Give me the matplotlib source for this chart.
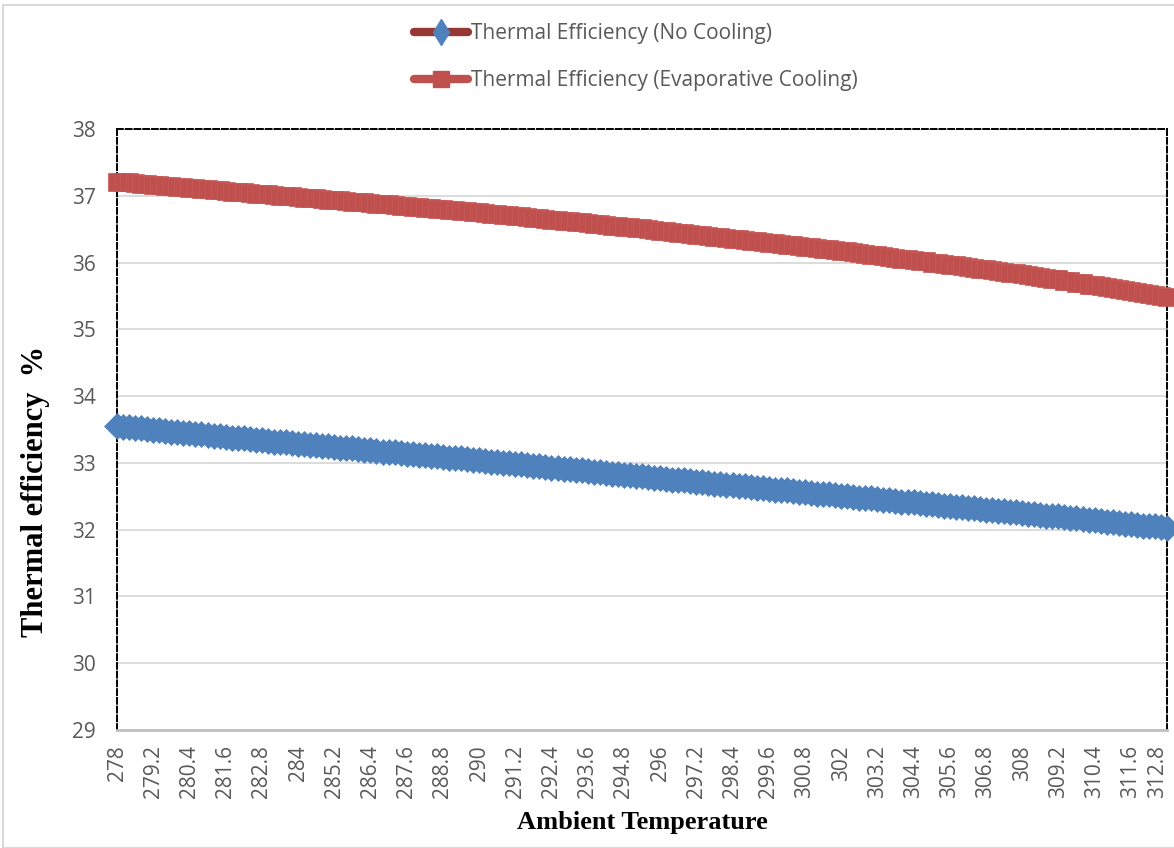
import numpy as np
import matplotlib
matplotlib.use("Agg")
import matplotlib.pyplot as plt
import matplotlib.transforms as mtransforms
from matplotlib.lines import Line2D
from matplotlib.patches import Rectangle

# ambient temperature categories (K), one every 0.2
temps = np.round(np.arange(278.0, 312.81, 0.2), 1)

eff_no_cooling = [
    33.55, 33.54, 33.53, 33.52, 33.52, 33.51, 33.50, 33.49, 33.48, 33.47,
    33.46, 33.45, 33.45, 33.44, 33.43, 33.42, 33.41, 33.40, 33.39, 33.38,
    33.38, 33.37, 33.36, 33.35, 33.34, 33.33, 33.32, 33.32, 33.31, 33.30,
    33.29, 33.28, 33.27, 33.27, 33.26, 33.25, 33.24, 33.23, 33.22, 33.22,
    33.21, 33.20, 33.19, 33.18, 33.17, 33.17, 33.16, 33.15, 33.14, 33.13,
    33.12, 33.12, 33.11, 33.10, 33.09, 33.08, 33.07, 33.07, 33.06, 33.05,
    33.04, 33.03, 33.02, 33.01, 33.00, 33.00, 32.99, 32.98, 32.97, 32.96,
    32.95, 32.94, 32.93, 32.92, 32.91, 32.91, 32.90, 32.89, 32.88, 32.87,
    32.86, 32.85, 32.84, 32.83, 32.82, 32.82, 32.81, 32.80, 32.79, 32.78,
    32.77, 32.76, 32.75, 32.74, 32.74, 32.73, 32.72, 32.71, 32.70, 32.69,
    32.68, 32.67, 32.67, 32.66, 32.65, 32.64, 32.63, 32.62, 32.61, 32.60,
    32.60, 32.59, 32.58, 32.57, 32.56, 32.55, 32.54, 32.54, 32.53, 32.52,
    32.51, 32.50, 32.49, 32.48, 32.48, 32.47, 32.46, 32.45, 32.44, 32.43,
    32.42, 32.41, 32.41, 32.40, 32.39, 32.38, 32.37, 32.36, 32.35, 32.34,
    32.34, 32.33, 32.32, 32.31, 32.30, 32.29, 32.28, 32.28, 32.27, 32.26,
    32.25, 32.24, 32.23, 32.22, 32.21, 32.20, 32.20, 32.19, 32.18, 32.17,
    32.16, 32.15, 32.14, 32.13, 32.12, 32.11, 32.10, 32.09, 32.08, 32.07,
    32.06, 32.06, 32.05, 32.04, 32.03,
]

eff_evap_cooling = [
    37.21, 37.20, 37.20, 37.19, 37.18, 37.17, 37.16, 37.16, 37.15, 37.14,
    37.13, 37.13, 37.12, 37.11, 37.10, 37.10, 37.09, 37.08, 37.07, 37.06,
    37.06, 37.05, 37.04, 37.03, 37.03, 37.02, 37.01, 37.00, 37.00, 36.99,
    36.98, 36.97, 36.97, 36.96, 36.95, 36.94, 36.93, 36.93, 36.92, 36.91,
    36.90, 36.90, 36.89, 36.88, 36.87, 36.87, 36.86, 36.85, 36.84, 36.83,
    36.83, 36.82, 36.81, 36.80, 36.80, 36.79, 36.78, 36.77, 36.77, 36.76,
    36.75, 36.74, 36.73, 36.72, 36.71, 36.71, 36.70, 36.69, 36.68, 36.67,
    36.66, 36.65, 36.64, 36.63, 36.62, 36.62, 36.61, 36.60, 36.59, 36.58,
    36.57, 36.56, 36.55, 36.54, 36.53, 36.53, 36.52, 36.51, 36.50, 36.49,
    36.48, 36.47, 36.46, 36.45, 36.44, 36.43, 36.42, 36.41, 36.40, 36.39,
    36.38, 36.37, 36.36, 36.35, 36.34, 36.33, 36.32, 36.31, 36.30, 36.29,
    36.28, 36.27, 36.26, 36.25, 36.24, 36.23, 36.22, 36.21, 36.20, 36.19,
    36.18, 36.17, 36.16, 36.14, 36.13, 36.12, 36.11, 36.10, 36.09, 36.07,
    36.06, 36.05, 36.04, 36.03, 36.02, 36.00, 35.99, 35.98, 35.97, 35.96,
    35.95, 35.93, 35.92, 35.91, 35.90, 35.89, 35.88, 35.86, 35.85, 35.84,
    35.83, 35.82, 35.80, 35.79, 35.77, 35.76, 35.75, 35.73, 35.72, 35.70,
    35.69, 35.67, 35.66, 35.65, 35.63, 35.62, 35.60, 35.59, 35.57, 35.56,
    35.55, 35.53, 35.52, 35.50, 35.49,
]

y_ticks = list(range(29, 39))

label_no = "Thermal Efficiency (No Cooling)"
label_evap = "Thermal Efficiency (Evaporative Cooling)"

BLUE = "#4F81BD"
DARKRED = "#953735"
RED = "#C0504D"
GREY_TXT = "#595959"
GRID = "#D9D9D9"

plt.rcParams['font.family'] = ['Open Sans', 'DejaVu Sans']

fig = plt.figure(figsize=(11.74, 8.48), dpi=100)
ax = fig.add_axes([117/1174, 1 - 730/848, 1050/1174, 601/848])

# outer chart border
fig.patches.append(Rectangle((3/1174, 0), 1.0, 1 - 5/848, transform=fig.transFigure,
                             fill=False, edgecolor=GRID, lw=1.5, zorder=0))

idx = np.arange(len(temps))
ax.plot(idx, eff_no_cooling, color=DARKRED, lw=2, marker='D', ms=13,
        mfc=BLUE, mec=BLUE, mew=0.5, zorder=3, clip_on=False)
ax.plot(idx, eff_evap_cooling, color=RED, lw=2, marker='s', ms=13.5,
        mfc=RED, mec="#C85A57", mew=0.5, zorder=3, clip_on=False)

ax.set_xlim(0, len(temps) - 1)
ax.set_ylim(29, 38)
ax.set_yticks(y_ticks)
ax.set_xticks(idx[::6])
ax.set_xticklabels([f"{t:g}" for t in temps[::6]], rotation=90)

ax.grid(axis='y', color=GRID, lw=1.3)
ax.set_axisbelow(True)
ax.tick_params(axis='both', length=0, labelsize=15, labelcolor=GREY_TXT)
ax.tick_params(axis='y', pad=15)
ax.tick_params(axis='x', pad=11)

# last category label is nudged left so it stays inside the chart
last = ax.get_xticklabels()[-1]
last.set_transform(last.get_transform() +
                   mtransforms.ScaledTranslation(-9/100, 0, fig.dpi_scale_trans))

for side in ['left', 'top', 'right']:
    ax.spines[side].set_linestyle((0, (3, 1.5)))
    ax.spines[side].set_color('black')
    ax.spines[side].set_linewidth(1.4)
ax.spines['bottom'].set_linestyle((0, (3, 1)))
ax.spines['bottom'].set_color('#BFBFBF')
ax.spines['bottom'].set_linewidth(2)

ax.set_xlabel("Ambient Temperature", family='Liberation Serif', fontweight='bold',
              fontsize=19, color='black')
ax.set_ylabel("Thermal efficiency  %", family='Liberation Serif', fontweight='bold',
              fontsize=22, color='black')
ax.yaxis.set_label_coords(-(117 - 50) / 1050, 0.5 - (492 - 430) / 601)
ax.xaxis.set_label_coords((642 - 117) / 1050, -(811 - 730) / 601)

handles = [
    Line2D([], [], color=DARKRED, lw=6, solid_capstyle='round', marker='d',
           ms=13, mfc=BLUE, mec=BLUE),
    Line2D([], [], color=RED, lw=6, solid_capstyle='round', marker='s',
           ms=11, mfc=RED, mec=RED),
]
fig.legend(handles, [label_no, label_evap], loc='upper left',
           bbox_to_anchor=(414/1174, 1 - 23/848), frameon=False,
           fontsize=15, labelcolor=GREY_TXT, handlelength=2.6,
           handletextpad=0.15, labelspacing=1.27, borderpad=0, borderaxespad=0)

fig.savefig("out.png", dpi=100)
